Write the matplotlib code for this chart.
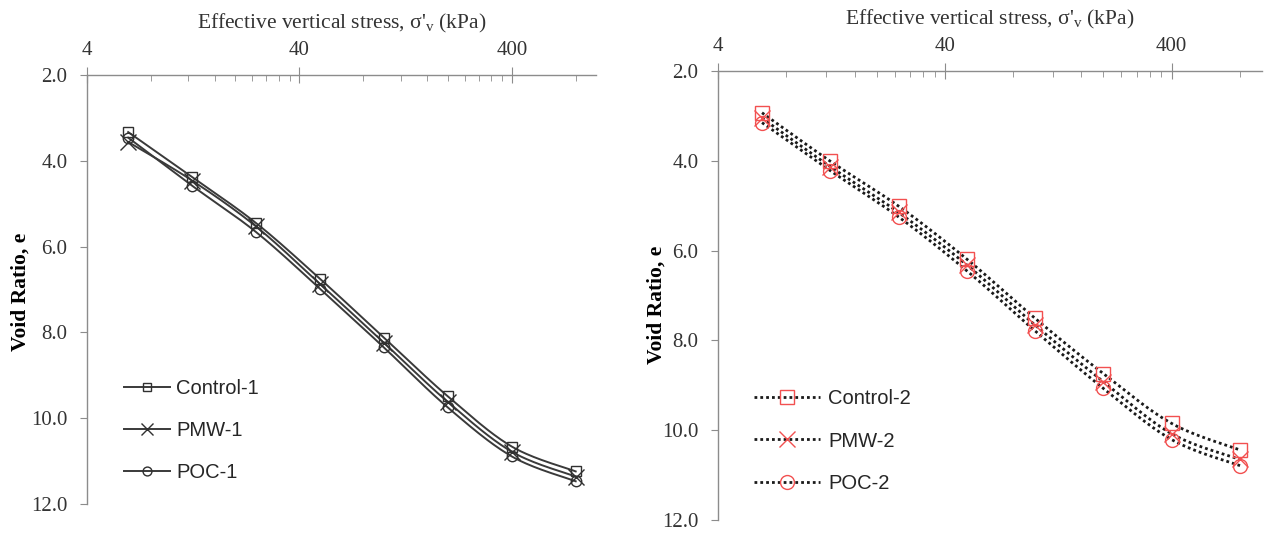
import numpy as np
import matplotlib
matplotlib.use("Agg")
import matplotlib.pyplot as plt
from matplotlib.ticker import FixedLocator, NullFormatter, FormatStrFormatter

# ---------------- data ----------------
stress = [6.25, 12.5, 25, 50, 100, 200, 400, 800]

control1 = [3.33, 4.38, 5.45, 6.75, 8.12, 9.49, 10.66, 11.24]
pmw1     = [3.56, 4.46, 5.53, 6.87, 8.24, 9.62, 10.78, 11.36]
poc1     = [3.46, 4.58, 5.66, 6.98, 8.35, 9.75, 10.89, 11.47]

control2 = [2.93, 4.01, 5.01, 6.19, 7.51, 8.74, 9.85, 10.44]
pmw2     = [3.05, 4.13, 5.15, 6.32, 7.66, 8.92, 10.08, 10.65]
poc2     = [3.15, 4.22, 5.25, 6.45, 7.79, 9.07, 10.21, 10.79]

labels1 = ["Control-1", "PMW-1", "POC-1"]
labels2 = ["Control-2", "PMW-2", "POC-2"]
markers = ["s", "x", "o"]

xmajor = [4, 40, 400]
xminor = [4 * k * d for d in (1, 10) for k in range(2, 10)] + [800]
yticks = [2.0, 4.0, 6.0, 8.0, 10.0, 12.0]

xtitle = "Effective vertical stress, σ'$_\\mathregular{v}$ (kPa)"
ytitle = "Void Ratio, e"

# ---------------- style ----------------
plt.rcParams['font.family'] = ['Liberation Serif', 'DejaVu Serif']
plt.rcParams['mathtext.fontset'] = 'custom'
plt.rcParams['mathtext.rm'] = 'Liberation Serif'
SPINE = '#8c8c8c'
TXT = '#333333'


def smooth(xs, ys, n=30):
    """Excel-like smoothed line (Catmull-Rom Bezier) in log-x space."""
    u = np.log10(np.asarray(xs, float))
    v = np.asarray(ys, float)
    P = np.column_stack([u, v])
    out = []
    m = len(P)
    t = np.linspace(0, 1, n)[:, None]
    for i in range(m - 1):
        p0 = P[i - 1] if i > 0 else P[i]
        p1 = P[i]
        p2 = P[i + 1]
        p3 = P[i + 2] if i + 2 < m else P[i + 1]
        c1 = p1 + (p2 - p0) / 6.0
        c2 = p2 - (p3 - p1) / 6.0
        seg = ((1 - t) ** 3) * p1 + 3 * ((1 - t) ** 2) * t * c1 + 3 * (1 - t) * t ** 2 * c2 + t ** 3 * p2
        out.append(seg if i == 0 else seg[1:])
    S = np.vstack(out)
    return 10 ** S[:, 0], S[:, 1]


def style_axes(ax, ylab_x, ylab_y):
    ax.set_xscale('log')
    ax.set_xlim(4, 1000)
    ax.set_ylim(12, 2)
    ax.xaxis.set_ticks_position('top')
    ax.xaxis.set_label_position('top')
    ax.xaxis.set_major_locator(FixedLocator(xmajor))
    ax.xaxis.set_major_formatter(FormatStrFormatter('%g'))
    ax.xaxis.set_minor_locator(FixedLocator(xminor))
    ax.xaxis.set_minor_formatter(NullFormatter())
    ax.set_yticks(yticks)
    ax.yaxis.set_major_formatter(FormatStrFormatter('%.1f'))
    for s in ('right', 'bottom'):
        ax.spines[s].set_visible(False)
    for s in ('top', 'left'):
        ax.spines[s].set_color(SPINE)
        ax.spines[s].set_linewidth(1.0)
    ax.tick_params(axis='x', which='major', direction='inout', length=11, color=SPINE,
                   labelsize=15, labelcolor=TXT, pad=5)
    ax.tick_params(axis='x', which='minor', direction='in', length=4.5, color=SPINE)
    ax.tick_params(axis='y', which='major', direction='out', length=5, color=SPINE,
                   labelsize=15, labelcolor=TXT, pad=9)
    ax.set_xlabel(xtitle, fontsize=15.5, color=TXT, labelpad=9.5)
    ax.set_ylabel(ytitle, fontsize=15.5, fontweight='bold', color='black')
    ax.yaxis.set_label_coords(ylab_x, ylab_y)


fig = plt.figure(figsize=(12.7, 5.35), dpi=100)
ax1 = fig.add_axes([0.0685, 0.0579, 0.4010, 0.8019])
ax2 = fig.add_axes([0.5654, 0.0280, 0.4283, 0.8393])
style_axes(ax1, -0.110, 0.494)
style_axes(ax2, -0.095, 0.479)

# ---------- left panel ----------
handles1 = []
for ys, mk, lab in zip([control1, pmw1, poc1], markers, labels1):
    sx, sy = smooth(stress, ys)
    ln, = ax1.plot(sx, sy, color='#3a3a3a', lw=1.4, zorder=2)
    ms = 11 if mk == 'x' else 7.5
    mkr, = ax1.plot(stress, ys, linestyle='none', marker=mk, ms=ms, mfc='none',
                    mec='#303030', mew=1.0, zorder=3)
    handles1.append((ln, mkr))
leg1 = ax1.legend(handles1, labels1, loc='upper left', bbox_to_anchor=(0.072, 0.291),
                  frameon=False, handlelength=2.3, labelspacing=1.13, handletextpad=0.3,
                  borderpad=0, borderaxespad=0, markerscale=0.85,
                  prop={'family': 'Liberation Sans', 'size': 14.5})
for t in leg1.get_texts():
    t.set_color('#262626')

# ---------- right panel ----------
handles2 = []
for ys, mk, lab in zip([control2, pmw2, poc2], markers, labels2):
    sx, sy = smooth(stress, ys)
    ln, = ax2.plot(sx, sy, color='#1a1a1a', lw=2.0, linestyle=(0, (1, 1.1)), zorder=2)
    ms = 11 if mk == 'x' else 10
    mkr, = ax2.plot(stress, ys, linestyle='none', marker=mk, ms=ms, mfc='none',
                    mec='#f25050', mew=1.0, zorder=3)
    handles2.append((ln, mkr))
leg2 = ax2.legend(handles2, labels2, loc='upper left', bbox_to_anchor=(0.066, 0.291),
                  frameon=False, handlelength=3.3, labelspacing=1.15, handletextpad=0.4,
                  borderpad=0, borderaxespad=0,
                  prop={'family': 'Liberation Sans', 'size': 14.5})
for t in leg2.get_texts():
    t.set_color('#262626')

fig.savefig('out.png', dpi=100)
